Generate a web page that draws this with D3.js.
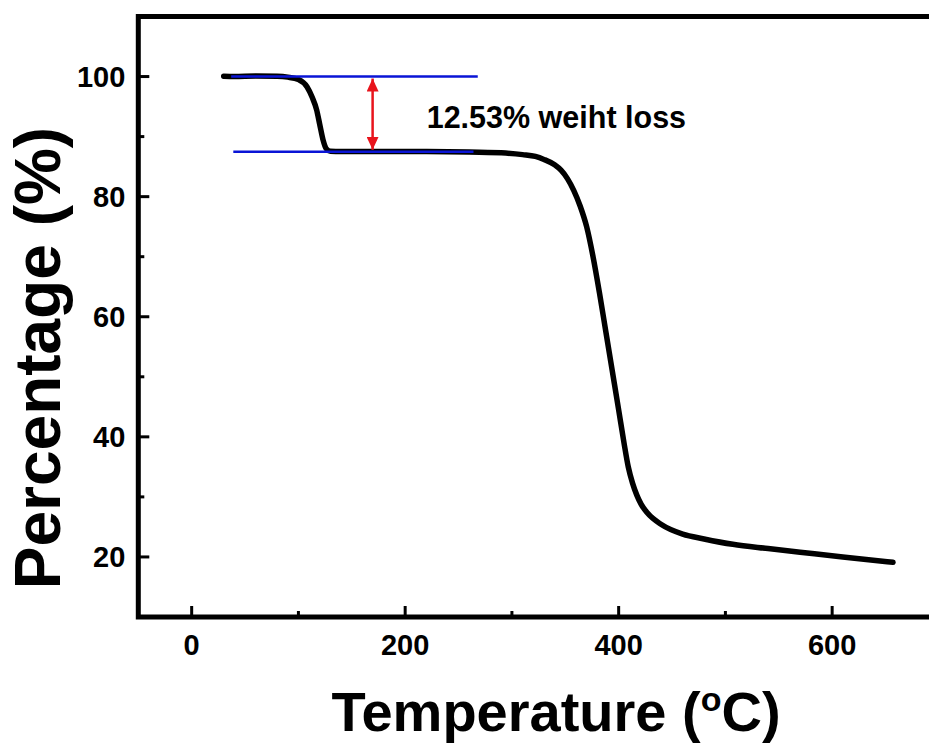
<!DOCTYPE html>
<html>
<head>
<meta charset="utf-8">
<script src="https://cdn.jsdelivr.net/npm/d3@7"></script>
<style>
  body { margin: 0; background: #fff; }
  text { font-family: "Liberation Sans", Arial, sans-serif; font-weight: bold; }
</style>
</head>
<body>
<svg id="chart"></svg>
<script>
// TGA curve
var temps = [30, 40, 60, 80, 90, 100, 108, 113, 117, 120, 123, 126, 130, 140, 180, 220, 260, 290, 310, 322, 330, 340, 346, 352, 358, 364, 370, 376, 382, 388, 394, 400, 405, 409, 413, 417, 421, 427, 440, 460, 480, 507, 540, 570, 610, 657];
var percent = [100.05, 100.0, 100.1, 100.05, 99.9, 99.5, 98.3, 96.5, 94.5, 92.0, 89.5, 88.0, 87.55, 87.5, 87.5, 87.5, 87.45, 87.3, 87.0, 86.7, 86.2, 85.3, 84.4, 83.0, 81.0, 78.4, 75.0, 70.0, 64.0, 57.5, 51.0, 44.5, 39.0, 35.0, 32.3, 30.3, 28.8, 27.3, 25.4, 23.8, 23.0, 22.1, 21.4, 20.8, 20.0, 19.1];

var xTicks = [0, 200, 400, 600];
var xMinor = [100, 300, 500];
var yTicks = [20, 40, 60, 80, 100];
var yMinor = [30, 50, 70, 90];

// guide lines + annotation
var guideTop = {x0: 37, x1: 268, v: 100};
var guideLow = {x0: 39, x1: 264, v: 87.47};
var arrowAt = 169.5;
var lossLabel = "12.53% weiht loss";

var W = 929, H = 743;
var margin = {top: 16.5, left: 138.3};
var plotW = 938.9 - margin.left, plotH = 617 - margin.top;

var svg = d3.select("#chart").attr("width", W).attr("height", H);
var g = svg.append("g").attr("transform", "translate(" + margin.left + "," + margin.top + ")");

var x = d3.scaleLinear().domain([-50, 700]).range([0, plotW]);
var y = d3.scaleLinear().domain([10, 110]).range([plotH, 0]);

var data = temps.map(function(t, i) { return {t: t, v: percent[i]}; });

// ticks (inward)
g.selectAll(".xt").data(xTicks).enter().append("line")
  .attr("x1", d => x(d)).attr("x2", d => x(d))
  .attr("y1", plotH).attr("y2", plotH - 11)
  .attr("stroke", "#000").attr("stroke-width", 3);
g.selectAll(".xm").data(xMinor).enter().append("line")
  .attr("x1", d => x(d)).attr("x2", d => x(d))
  .attr("y1", plotH).attr("y2", plotH - 6)
  .attr("stroke", "#000").attr("stroke-width", 3);
g.selectAll(".yt").data(yTicks).enter().append("line")
  .attr("x1", 0).attr("x2", 11)
  .attr("y1", d => y(d)).attr("y2", d => y(d))
  .attr("stroke", "#000").attr("stroke-width", 3);
g.selectAll(".ym").data(yMinor).enter().append("line")
  .attr("x1", 0).attr("x2", 6)
  .attr("y1", d => y(d)).attr("y2", d => y(d))
  .attr("stroke", "#000").attr("stroke-width", 3);

// tick labels
g.selectAll(".xl").data(xTicks).enter().append("text")
  .attr("x", d => x(d)).attr("y", plotH + 38)
  .attr("text-anchor", "middle").attr("font-size", 29)
  .text(d => d);
g.selectAll(".yl").data(yTicks).enter().append("text")
  .attr("x", -13).attr("y", d => y(d) + 10.5)
  .attr("text-anchor", "end").attr("font-size", 29)
  .text(d => d);

// frame
g.append("rect").attr("x", 0).attr("y", 0).attr("width", plotW).attr("height", plotH)
  .attr("fill", "none").attr("stroke", "#000").attr("stroke-width", 5);

// curve
var line = d3.line().x(d => x(d.t)).y(d => y(d.v)).curve(d3.curveMonotoneX);
g.append("path").datum(data).attr("d", line)
  .attr("fill", "none").attr("stroke", "#000").attr("stroke-width", 5.5)
  .attr("stroke-linecap", "round").attr("stroke-linejoin", "round");

// blue guides
[guideTop, guideLow].forEach(function(s) {
  g.append("line").attr("x1", x(s.x0)).attr("x2", x(s.x1))
    .attr("y1", y(s.v)).attr("y2", y(s.v))
    .attr("stroke", "#0a14d6").attr("stroke-width", 2.5);
});

// red double arrow
var defs = svg.append("defs");
defs.append("marker").attr("id", "ah").attr("viewBox", "0 0 10 10")
  .attr("preserveAspectRatio", "none")
  .attr("refX", 10).attr("refY", 5).attr("markerWidth", 13).attr("markerHeight", 12)
  .attr("markerUnits", "userSpaceOnUse").attr("orient", "auto-start-reverse")
  .append("path").attr("d", "M0,0 L10,5 L0,10 Z").attr("fill", "#e8141c");
g.append("line").attr("x1", x(arrowAt)).attr("x2", x(arrowAt))
  .attr("y1", y(guideTop.v) + 2).attr("y2", y(guideLow.v) - 2)
  .attr("stroke", "#e8141c").attr("stroke-width", 2.5)
  .attr("marker-start", "url(#ah)").attr("marker-end", "url(#ah)");

g.append("text").attr("x", 426.7 - margin.left).attr("y", 128 - margin.top)
  .attr("font-size", 30.5).text(lossLabel);

// axis titles
var xt = svg.append("text").attr("x", 556).attr("y", 731)
  .attr("text-anchor", "middle").attr("font-size", 56);
xt.append("tspan").text("Temperature (");
xt.append("tspan").attr("font-size", 34).attr("dy", -20).text("o");
xt.append("tspan").attr("dy", 20).text("C)");

svg.append("text").attr("transform", "translate(60,358) rotate(-90)")
  .attr("text-anchor", "middle").attr("font-size", 64)
  .text("Percentage (%)");
</script>
</body>
</html>
